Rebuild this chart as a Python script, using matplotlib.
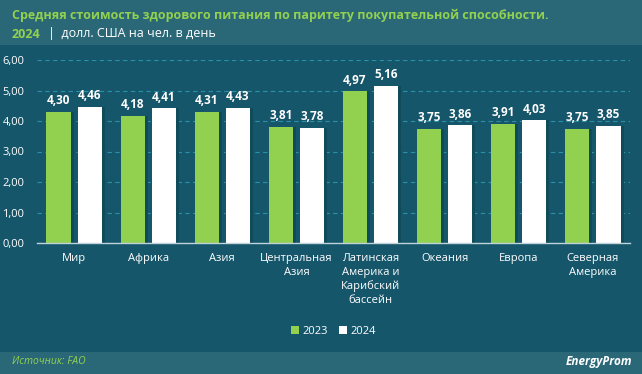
import numpy as np
import matplotlib.pyplot as plt
from matplotlib.patches import Rectangle

regions = ["Мир", "Африка", "Азия", "Центральная\nАзия", "Латинская\nАмерика и\nКарибский\nбассейн",
           "Океания", "Европа", "Северная\nАмерика"]
v2023 = [4.30, 4.18, 4.31, 3.81, 4.97, 3.75, 3.91, 3.75]
v2024 = [4.46, 4.41, 4.43, 3.78, 5.16, 3.86, 4.03, 3.85]
yticks = [0, 1, 2, 3, 4, 5, 6]

W, H = 642, 374
bg = "#16566A"
green = "#92D050"

fig = plt.figure(figsize=(W / 100, H / 100), dpi=100)
fig.patch.set_facecolor(bg)
plt.rcParams['font.family'] = ['Open Sans', 'DejaVu Sans']

# header and footer bands
fig.patches.append(Rectangle((0, 1 - 45 / H), 1, 45 / H, transform=fig.transFigure,
                             facecolor="#2A6878", edgecolor="none", zorder=0))
fig.patches.append(Rectangle((0, 0), 1, 22 / H, transform=fig.transFigure,
                             facecolor="#2A6878", edgecolor="none", zorder=0))

ax = fig.add_axes([37 / W, 1 - 243 / H, (630 - 37) / W, (243 - 60) / H])
ax.set_facecolor(bg)

x = np.arange(len(regions))
bw = 0.325
off = 0.21
# soft shadow
ax.bar(x - off + 0.04, v2023, bw, color="#104B5C", zorder=1)
ax.bar(x + off + 0.04, v2024, bw, color="#104B5C", zorder=1)
ax.bar(x - off, v2023, bw, color=green, label="2023", zorder=2)
ax.bar(x + off, v2024, bw, color="white", label="2024", zorder=2)

for xi, a, b in zip(x, v2023, v2024):
    ax.text(xi - off, a + 0.15, f"{a:.2f}".replace(".", ","), ha="center", va="bottom",
            color="white", fontsize=8.5, fontweight="bold")
    ax.text(xi + off, b + 0.15, f"{b:.2f}".replace(".", ","), ha="center", va="bottom",
            color="white", fontsize=8.5, fontweight="bold")

ax.set_xlim(-0.5, len(regions) - 0.5)
ax.set_ylim(0, 6)
ax.set_yticks(yticks)
ax.set_yticklabels([f"{t:.2f}".replace(".", ",") for t in yticks], color="white", fontsize=8)
ax.set_xticks(x)
ax.set_xticklabels(regions, color="white", fontsize=8, linespacing=1.35)
ax.tick_params(length=0, pad=7)
ax.tick_params(axis="y", pad=9)
ax.yaxis.grid(True, color="#2A8FA8", linestyle=(0, (4, 3)), linewidth=0.8)
ax.set_axisbelow(True)
for s in ["top", "right", "left"]:
    ax.spines[s].set_visible(False)
ax.spines["bottom"].set_color("#BFD4DA")
ax.spines["bottom"].set_linewidth(1)

leg = ax.legend(loc="upper center", bbox_to_anchor=(0.5, -0.4), ncol=2, frameon=False,
                fontsize=8, handlelength=0.7, handleheight=0.7, columnspacing=1.0,
                handletextpad=0.3, labelcolor="white")

fig.text(12 / W, 1 - 15 / H, "Средняя стоимость здорового питания по паритету покупательной способности.",
         color=green, fontsize=9, fontweight="bold", va="center")
fig.text(12 / W, 1 - 34 / H, "2024", color=green, fontsize=9, fontweight="bold", va="center")
fig.text(48 / W, 1 - 34 / H, "|  долл. США на чел. в день", color="white", fontsize=9,
         va="center")
fig.text(12 / W, 1 - 362 / H, "Источник: FAO", color=green, fontsize=7.5, style="italic",
         va="center")
fig.text(632 / W, 1 - 362 / H, "EnergyProm", color="white", fontsize=8.5, style="italic",
         fontweight="bold", ha="right", va="center")

fig.savefig("out.png", dpi=100, facecolor=fig.get_facecolor())
